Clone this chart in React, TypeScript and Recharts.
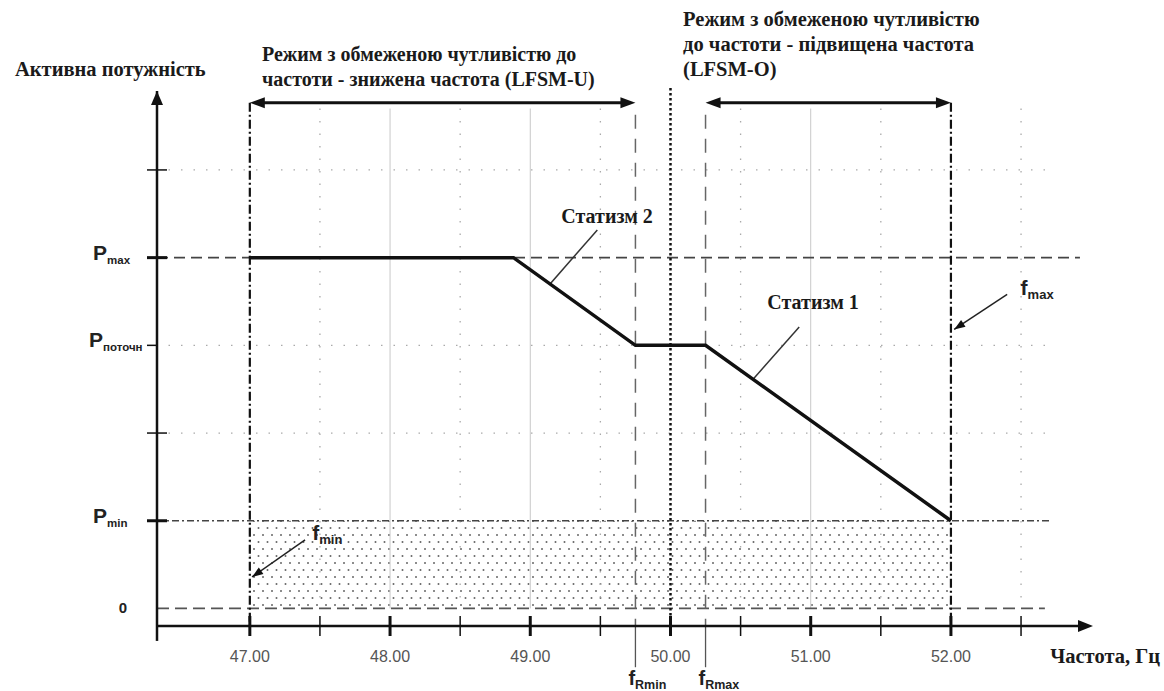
import React from 'react';
import { ComposedChart, Line, XAxis, YAxis, ReferenceLine, ReferenceArea, ReferenceDot } from 'recharts';

// break points of the P(f) characteristic
const freq = [47, 48.88, 49.75, 50.25, 52];
const power = [4, 4, 3, 3, 1];

const xTicks = [47, 47.5, 48, 48.5, 49, 49.5, 50, 50.5, 51, 51.5, 52, 52.5];
const yTicks = [0, 1, 2, 3, 4, 5];
const yTickMain = ['0', 'P', '', 'P', 'P', ''];
const yTickSub = ['', 'min', '', 'поточн', 'max', ''];

const fMin = 47;
const fMax = 52;
const fNom = 50;
const fRmin = 49.75;
const fRmax = 50.25;
const pZero = 0;
const pMin = 1;
const pMax = 4;
const gridMajor = [48, 49, 51];
const gridMinor = [47.5, 48.5, 49.5, 50.5, 51.5, 52.5];
const gridRows = [2, 3, 5];

const data = freq.map((f, i) => ({ f, p: power[i] }));

const X_DOMAIN: [number, number] = [46.338, 52.949];
const Y_DOMAIN: [number, number] = [-0.2, 5.9];
const GRID_TOP = 5.7;
const ARROW_ROW = 5.765;

const serif = '"Liberation Serif", "Times New Roman", serif';
const sans = '"Liberation Sans", Arial, sans-serif';

function head(x1: number, y1: number, x2: number, y2: number, len: number, wid: number) {
  const d = Math.hypot(x2 - x1, y2 - y1) || 1;
  const ux = (x2 - x1) / d;
  const uy = (y2 - y1) / d;
  const bx = x2 - ux * len;
  const by = y2 - uy * len;
  return `${x2},${y2} ${bx - uy * wid / 2},${by + ux * wid / 2} ${bx + uy * wid / 2},${by - ux * wid / 2}`;
}

const doubleArrow = (p: any) => (
  <g>
    <line x1={p.x1 + 8} y1={p.y1} x2={p.x2 - 8} y2={p.y2} stroke="#111" strokeWidth={3} />
    <polygon points={head(p.x2, p.y2, p.x1, p.y1, 15, 11)} fill="#111" />
    <polygon points={head(p.x1, p.y1, p.x2, p.y2, 15, 11)} fill="#111" />
  </g>
);

const pointer = (p: any) => (
  <g>
    <line x1={p.x1} y1={p.y1} x2={p.x2} y2={p.y2} stroke="#222" strokeWidth={1.5} />
    <polygon points={head(p.x1, p.y1, p.x2, p.y2, 11, 8)} fill="#111" />
  </g>
);

const YTick = (props: any) => {
  const { x, y, payload } = props;
  const i = yTicks.indexOf(payload.value);
  const thick = payload.value === pMax || payload.value === pMin;
  return (
    <g>
      {payload.value !== pZero && (
        <line x1={x - 10} x2={x + (i === 3 ? 0 : 10)} y1={y} y2={y} stroke="#111" strokeWidth={thick ? 3 : 1.5} />
      )}
      {yTickMain[i] === '0' && (
        <text x={x - 34} y={y + 5} textAnchor="middle" fontFamily={sans} fontWeight="bold" fontSize={15} fill="#222">
          0
        </text>
      )}
      {yTickMain[i] === 'P' && (
        <text x={x - (i === 3 ? 68 : 64)} y={y + 2} fontFamily={sans} fontWeight="bold" fill="#222">
          <tspan fontSize={21}>P</tspan>
          <tspan fontSize={11.5} dy={4}>{yTickSub[i]}</tspan>
        </text>
      )}
    </g>
  );
};

const XTick = (props: any) => {
  const { x, y, payload } = props;
  const major = Number.isInteger(payload.value);
  return (
    <g>
      <line x1={x} x2={x} y1={y - 10} y2={y + 10} stroke="#111" strokeWidth={major ? 3 : 1.5} />
      {major && (
        <text x={x} y={y + 36} textAnchor="middle" fontFamily={sans} fontSize={16} fill="#555">
          {payload.value.toFixed(2)}
        </text>
      )}
    </g>
  );
};

const dotsArea = (p: any) => (
  <g>
    <defs>
      <pattern id="dots" width="9" height="14" patternUnits="userSpaceOnUse">
        <circle cx="2" cy="3" r="1" fill="#666" />
        <circle cx="6.5" cy="10" r="1" fill="#666" />
      </pattern>
    </defs>
    <rect x={p.x} y={p.y} width={p.width} height={p.height} fill="url(#dots)" />
  </g>
);

const textBlock = (lines: string[], opts: any) => (p: any) => (
  <text x={p.cx} y={p.cy} fontFamily={opts.family ?? serif} fontWeight="bold" fontSize={opts.size} textAnchor={opts.anchor ?? 'start'} fill="#1a1a1a">
    {lines.map((l, i) => (
      <tspan key={i} x={p.cx} dy={i === 0 ? 0 : opts.lh}>
        {l}
      </tspan>
    ))}
  </text>
);

const subLabel = (main: string, sub: string, big: number, small: number) => (p: any) => (
  <text x={p.cx} y={p.cy} fontFamily={sans} fontWeight="bold" fill="#222">
    <tspan fontSize={big}>{main}</tspan>
    <tspan fontSize={small} dy={4}>{sub}</tspan>
  </text>
);

export default function App() {
  return (
    <div style={{ position: 'absolute', left: 0, top: 0, width: 1164, height: 691, background: '#fff' }}>
      <ComposedChart width={1164} height={691} data={data} margin={{ top: 91, right: 80, bottom: 35, left: 0 }}>
        <XAxis
          dataKey="f"
          type="number"
          domain={X_DOMAIN}
          ticks={xTicks}
          allowDataOverflow
          height={30}
          tickSize={0}
          tickMargin={0}
          tickLine={false}
          axisLine={{ stroke: '#111', strokeWidth: 2.5 }}
          tick={<XTick />}
          interval={0}
        />
        <YAxis
          type="number"
          domain={Y_DOMAIN}
          ticks={yTicks}
          allowDataOverflow
          width={157}
          tickSize={0}
          tickMargin={0}
          tickLine={false}
          axisLine={{ stroke: '#111', strokeWidth: 2.5 }}
          tick={<YTick />}
          interval={0}
        />

        <ReferenceArea x1={fMin} x2={fMax} y1={pZero} y2={pMin} shape={dotsArea} ifOverflow="visible" />

        {gridMajor.map((v) => (
          <ReferenceLine key={'gm' + v} segment={[{ x: v, y: GRID_TOP }, { x: v, y: pZero }]} stroke="#c8c8c8" strokeWidth={1} ifOverflow="visible" />
        ))}
        {gridMinor.map((v) => (
          <ReferenceLine key={'gn' + v} segment={[{ x: v, y: GRID_TOP }, { x: v, y: pZero }]} stroke="#aaa" strokeWidth={1.3} strokeDasharray="1.5 11" ifOverflow="visible" />
        ))}
        {gridRows.map((v) => (
          <ReferenceLine key={'gr' + v} segment={[{ x: 46.42, y: v }, { x: 52.7, y: v }]} stroke="#aaa" strokeWidth={1.3} strokeDasharray="1.5 11" ifOverflow="visible" />
        ))}

        <ReferenceLine segment={[{ x: X_DOMAIN[0], y: pMax }, { x: 52.92, y: pMax }]} stroke="#444" strokeWidth={1.8} strokeDasharray="11 6" ifOverflow="visible" />
        <ReferenceLine segment={[{ x: X_DOMAIN[0], y: pMin }, { x: 52.7, y: pMin }]} stroke="#444" strokeWidth={1.6} strokeDasharray="7 3 2 3" ifOverflow="visible" />
        <ReferenceLine segment={[{ x: X_DOMAIN[0], y: pZero }, { x: 52.67, y: pZero }]} stroke="#555" strokeWidth={1.8} strokeDasharray="12 6" ifOverflow="visible" />

        {[fMin, fMax].map((v) => (
          <ReferenceLine key={'fm' + v} segment={[{ x: v, y: ARROW_ROW }, { x: v, y: Y_DOMAIN[0] }]} stroke="#111" strokeWidth={2.2} strokeDasharray="9 3 2 3" ifOverflow="visible" />
        ))}
        <ReferenceLine segment={[{ x: fNom, y: 5.935 }, { x: fNom, y: Y_DOMAIN[0] }]} stroke="#111" strokeWidth={2.5} strokeDasharray="2.5 2.5" ifOverflow="visible" />
        {[fRmin, fRmax].map((v) => (
          <React.Fragment key={'fr' + v}>
            <ReferenceLine segment={[{ x: v, y: 5.63 }, { x: v, y: Y_DOMAIN[0] }]} stroke="#666" strokeWidth={1.5} strokeDasharray="14 10" ifOverflow="visible" />
            <ReferenceLine segment={[{ x: v, y: Y_DOMAIN[0] }, { x: v, y: -0.67 }]} stroke="#555" strokeWidth={1.3} ifOverflow="visible" />
          </React.Fragment>
        ))}
        <ReferenceLine segment={[{ x: X_DOMAIN[0], y: Y_DOMAIN[0] }, { x: X_DOMAIN[0], y: -0.37 }]} stroke="#111" strokeWidth={2.5} ifOverflow="visible" />

        <ReferenceLine segment={[{ x: fMin, y: ARROW_ROW }, { x: fRmin, y: ARROW_ROW }]} shape={doubleArrow} ifOverflow="visible" />
        <ReferenceLine segment={[{ x: fRmax, y: ARROW_ROW }, { x: fMax, y: ARROW_ROW }]} shape={doubleArrow} ifOverflow="visible" />

        <ReferenceLine segment={[{ x: 49.478, y: 4.315 }, { x: 49.141, y: 3.7 }]} stroke="#333" strokeWidth={1.5} ifOverflow="visible" />
        <ReferenceLine segment={[{ x: 50.918, y: 3.208 }, { x: 50.589, y: 2.613 }]} stroke="#333" strokeWidth={1.5} ifOverflow="visible" />
        <ReferenceLine segment={[{ x: 52.401, y: 3.581 }, { x: 52.023, y: 3.181 }]} shape={pointer} ifOverflow="visible" />
        <ReferenceLine segment={[{ x: 47.394, y: 0.781 }, { x: 47.016, y: 0.359 }]} shape={pointer} ifOverflow="visible" />

        <Line type="linear" dataKey="p" stroke="#111" strokeWidth={3.5} dot={false} activeDot={false} isAnimationActive={false} />

        <ReferenceDot x={X_DOMAIN[1]} y={Y_DOMAIN[0]} ifOverflow="visible" shape={(p: any) => <polygon points={`${p.cx + 9},${p.cy} ${p.cx - 6},${p.cy - 6} ${p.cx - 6},${p.cy + 6}`} fill="#111" />} />
        <ReferenceDot x={X_DOMAIN[0]} y={Y_DOMAIN[1]} ifOverflow="visible" shape={(p: any) => <polygon points={`${p.cx},${p.cy} ${p.cx - 6},${p.cy + 14} ${p.cx + 6},${p.cy + 14}`} fill="#111" />} />

        <ReferenceDot x={45.325} y={6.07} ifOverflow="visible" shape={textBlock(['Активна потужність'], { size: 20.5, lh: 25 })} />
        <ReferenceDot x={47.087} y={6.243} ifOverflow="visible" shape={textBlock(['Режим з обмеженою чутливістю до', 'частоти - знижена частота (LFSM-U)'], { size: 20, lh: 25 })} />
        <ReferenceDot x={50.09} y={6.64} ifOverflow="visible" shape={textBlock(['Режим з обмеженою чутливістю', 'до частоти - підвищена частота', '(LFSM-O)'], { size: 20.5, lh: 25 })} />
        <ReferenceDot x={51.017} y={3.41} ifOverflow="visible" shape={textBlock(['Статизм 1'], { size: 20, anchor: 'middle', lh: 25 })} />
        <ReferenceDot x={49.548} y={4.39} ifOverflow="visible" shape={textBlock(['Статизм 2'], { size: 20, anchor: 'middle', lh: 25 })} />
        <ReferenceDot x={52.708} y={-0.62} ifOverflow="visible" shape={textBlock(['Частота, Гц'], { size: 20.5, lh: 25 })} />

        <ReferenceDot x={52.497} y={3.57} ifOverflow="visible" shape={subLabel('f', 'max', 21, 13)} />
        <ReferenceDot x={47.445} y={0.78} ifOverflow="visible" shape={subLabel('f', 'min', 21, 13)} />
        <ReferenceDot x={49.70} y={-0.87} ifOverflow="visible" shape={subLabel('f', 'Rmin', 20, 12.5)} />
        <ReferenceDot x={50.20} y={-0.87} ifOverflow="visible" shape={subLabel('f', 'Rmax', 20, 12.5)} />
      </ComposedChart>
    </div>
  );
}
